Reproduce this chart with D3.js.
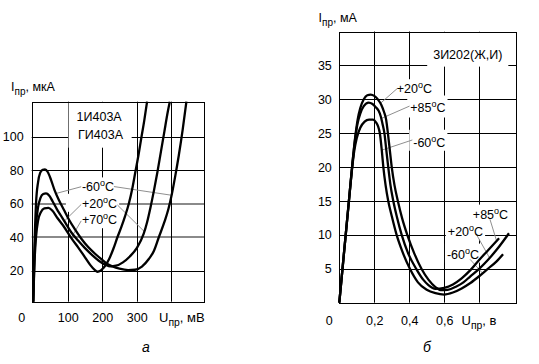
<!DOCTYPE html>
<html><head><meta charset="utf-8">
<script src="https://cdn.jsdelivr.net/npm/d3@7"></script>
<style>body{margin:0;background:#fff}svg{display:block}</style>
</head><body><svg id="c" width="539" height="364"></svg>
<script>
// ---------- DATA: left panel (1И403А / ГИ403А), U in mV, I in µA ----------
const leftYTicks = [20, 40, 60, 80, 100];
const leftGrayY  = [40, 60];
const leftXTicks = [100, 200, 300];
const leftXGrid  = [100, 200, 300, 400];
const leftMinus60 = [[0,1.5],[3,30],[8,60],[14,73],[20,78.5],[27,80.3],[34,80.5],[42,79],[52,74],[62,68],[75,62],[90,56],[105,50],[120,45],[140,39],[160,34],[180,30],[200,26.5],[215,24],[230,22.5],[250,21.2],[275,20.4],[295,20.6],[315,22.5],[335,27],[350,32],[364,40],[380,49],[392,57],[402,66],[412,77],[422,89],[433,104],[444,121]];
const leftPlus20  = [[0,1.5],[3,25],[8,47],[14,58],[21,63.5],[29,65.8],[37,66.2],[46,65],[56,61.5],[68,57],[80,53],[92,49],[110,43],[130,38],[150,33.5],[170,29.5],[190,26],[210,23.5],[223,22.6],[240,23],[260,25],[280,28.5],[300,33.5],[320,42],[330,49],[340,58],[350,68],[360,79],[370,91],[380,103],[390,115],[396,121]];
const leftPlus70  = [[0,1.5],[3,22],[8,40],[14,50],[22,55],[32,57.3],[44,57.6],[55,56],[70,51.5],[90,46],[112,39],[130,34],[150,28],[165,23.5],[178,20.5],[186,19.4],[196,20.2],[208,22.8],[220,27],[232,33],[244,40],[256,46.5],[266,52.5],[277,60],[287,69],[296,79],[305,89],[313,99],[322,110],[330,121]];

// ---------- DATA: right panel (3И202(Ж,И)), U in V, I in mA ----------
const rightYTicks = [5, 10, 15, 20, 25, 30, 35];
const rightXTicks = [0.2, 0.4, 0.6];
const rightXGrid  = [0.2, 0.4, 0.6, 0.8];
const rightPlus20  = [[0,0],[0.03,8.2],[0.055,15],[0.075,20.5],[0.09,24.2],[0.105,27],[0.12,28.7],[0.14,30],[0.16,30.6],[0.18,30.7],[0.2,30.5],[0.22,30],[0.24,29.2],[0.255,28.2],[0.268,27],[0.278,25],[0.289,22.5],[0.3,20],[0.316,17.3],[0.335,15],[0.36,12.4],[0.389,10],[0.43,7.2],[0.47,5],[0.51,3.4],[0.55,2.3],[0.58,1.85],[0.62,1.9],[0.67,2.4],[0.71,3.0],[0.75,3.9],[0.8,5.0],[0.85,6.3],[0.9,7.8],[0.971,10.25]];
const rightPlus85  = [[0,0],[0.03,8.2],[0.055,15],[0.075,20.5],[0.09,24],[0.105,26.5],[0.12,27.9],[0.14,29],[0.168,29.5],[0.19,29.3],[0.21,28.8],[0.225,28.3],[0.237,27.5],[0.248,26.3],[0.258,25],[0.269,22.5],[0.28,20],[0.293,17.3],[0.309,15],[0.33,12.6],[0.357,10],[0.395,7.2],[0.44,5],[0.48,3.4],[0.51,2.6],[0.55,2.05],[0.6,2.2],[0.65,2.7],[0.7,3.6],[0.75,4.8],[0.8,6.3],[0.85,7.7],[0.914,9.5]];
const rightMinus60 = [[0,0],[0.03,8.2],[0.055,15],[0.07,19],[0.085,22.3],[0.1,24.3],[0.12,25.8],[0.145,26.7],[0.17,27],[0.193,27],[0.21,26.6],[0.222,26],[0.232,25],[0.243,22.5],[0.252,20],[0.265,17.3],[0.28,15],[0.3,12.8],[0.328,10],[0.36,7.6],[0.404,5],[0.45,3],[0.5,1.9],[0.55,1.4],[0.6,1.2],[0.65,1.5],[0.7,2.1],[0.75,2.9],[0.8,3.9],[0.85,5.0],[0.9,6.1],[0.937,7.15]];

// ---------- drawing ----------
const FONT = '"Liberation Sans", Arial, sans-serif';
const FS = 12.5;
const svg = d3.select('#c');
const ruLocale = d3.formatLocale({decimal: ",", thousands: " ", grouping: [3], currency: ["", ""]});

function interp(data, xv) {
  for (let i = 1; i < data.length; i++) {
    if (data[i][0] >= xv) {
      const a = data[i-1], b = data[i], t = (xv - a[0]) / (b[0] - a[0]);
      return a[1] + t * (b[1] - a[1]);
    }
  }
  return data[data.length-1][1];
}

function tempLabel(g, x, y, num) {
  const t = g.append('text').attr('x', x).attr('y', y)
    .attr('font-family', FONT).attr('font-size', FS).attr('fill', '#000');
  t.append('tspan').text(num);
  t.append('tspan').attr('font-size', 9).attr('dy', -5).text('o');
  t.append('tspan').attr('dy', 5).text('C');
  return t;
}
function subLabel(g, x, y, main, sub, rest, fs) {
  const t = g.append('text').attr('x', x).attr('y', y)
    .attr('font-family', FONT).attr('font-size', fs).attr('fill', '#000');
  t.append('tspan').text(main);
  t.append('tspan').attr('font-size', fs * 0.8).attr('dy', 4).text(sub);
  t.append('tspan').attr('dy', -4).text(rest);
  return t;
}
function crisp(v) { return Math.round(v) + 0.5; }

function panel(o) {
  const {x, y} = o;
  const [x0, x1] = x.range(), [y0, y1] = y.range(); // y0 bottom, y1 top
  const g = svg.append('g');
  const grid = g.append('g'), masks = g.append('g'), frame = g.append('g'),
        leaders = g.append('g'), curves = g.append('g'), texts = g.append('g');

  // gridlines
  o.yGrid.forEach(v => {
    const gray = o.grayY && o.grayY.includes(v);
    grid.append('line').attr('x1', x0).attr('x2', x1)
      .attr('y1', gray ? Math.round(y(v)) : crisp(y(v))).attr('y2', gray ? Math.round(y(v)) : crisp(y(v)))
      .attr('stroke', gray ? '#8a8a8a' : '#000').attr('stroke-width', gray ? 2 : 1);
  });
  o.xGrid.forEach(v => {
    grid.append('line').attr('y1', y0).attr('y2', y1)
      .attr('x1', crisp(x(v))).attr('x2', crisp(x(v))).attr('stroke', '#000').attr('stroke-width', 1);
  });
  frame.append('rect').attr('x', crisp(x0)).attr('y', crisp(y1))
    .attr('width', Math.round(x1 - x0)).attr('height', Math.round(y0 - y1))
    .attr('fill', 'none').attr('stroke', '#000').attr('stroke-width', 1);

  // axes (labels only)
  const ay = g.append('g').attr('transform', `translate(${x0},0)`)
    .call(d3.axisLeft(y).tickValues(o.yTicks).tickSize(0).tickPadding(o.padY));
  ay.select('.domain').remove();
  ay.attr('font-family', FONT).attr('font-size', FS);
  const ax = g.append('g').attr('transform', `translate(0,${y0})`)
    .call(d3.axisBottom(x).tickValues(o.xTicks).tickSize(0).tickPadding(o.padX).tickFormat(o.fmt));
  ax.select('.domain').remove();
  ax.attr('font-family', FONT).attr('font-size', FS);
  // origin "0"
  texts.append('text').attr('x', x0 - 10).attr('y', y0 + o.padX + 9)
    .attr('text-anchor', 'middle').attr('font-family', FONT).attr('font-size', FS).text('0');

  // curves
  const line = d3.line().x(d => x(d[0])).y(d => y(d[1])).curve(d3.curveMonotoneX);
  o.series.forEach(s => {
    curves.append('path').attr('d', line(s)).attr('fill', 'none')
      .attr('stroke', '#000').attr('stroke-width', 2.3).attr('stroke-linejoin', 'round');
  });

  // labels with white backgrounds
  o.labels.forEach(L => {
    const t = tempLabel(texts, x(L.at[0]), y(L.at[1]), L.text);
    const b = t.node().getBBox();
    const p = L.pad || [2, 1, 2, 1];
    masks.append('rect').attr('x', b.x - p[0]).attr('y', b.y - p[1])
      .attr('width', b.width + p[0] + p[2]).attr('height', b.height + p[1] + p[3]).attr('fill', '#fff');
  });
  o.leaders.forEach(Ld => {
    const cx = Ld.curveX, cy = interp(Ld.curve, cx);
    leaders.append('line').attr('x1', x(cx)).attr('y1', y(cy))
      .attr('x2', x(Ld.to[0])).attr('y2', y(Ld.to[1]))
      .attr('stroke', '#8f8f8f').attr('stroke-width', 1);
  });
  return {g, texts, masks};
}

// ----- left panel -----
const xL = d3.scaleLinear().domain([-4.5, 495]).range([31.7, 204]);
const yL = d3.scaleLinear().domain([1.5, 121]).range([301.7, 101.7]);
const PL = panel({
  x: xL, y: yL, yGrid: leftYTicks, grayY: leftGrayY, xGrid: leftXGrid,
  yTicks: leftYTicks, xTicks: leftXTicks, padY: 8, padX: 11, fmt: d3.format('d'),
  series: [leftMinus60, leftPlus20, leftPlus70],
  labels: [
    {text: '-60', at: [141, 67.4]},
    {text: '+20', at: [141, 57.6], pad: [16, 1, 2, 1]},
    {text: '+70', at: [141, 47.8]}
  ],
  leaders: [
    {curve: leftMinus60, curveX: 66, to: [139, 70.2]},
    {curve: leftMinus60, curveX: 401, to: [234, 70.3]},
    {curve: leftPlus20, curveX: 90, to: [139, 59.6]},
    {curve: leftPlus20, curveX: 322, to: [244, 59.3]},
    {curve: leftPlus70, curveX: 110, to: [139, 49.8]}
  ]
});
{
  const t1 = PL.texts.append('text').attr('x', xL(191)).attr('y', yL(109.6)).attr('text-anchor', 'middle')
    .attr('font-family', FONT).attr('font-size', FS).text('1И403А');
  const t2 = PL.texts.append('text').attr('x', xL(195)).attr('y', yL(98.9)).attr('text-anchor', 'middle')
    .attr('font-family', FONT).attr('font-size', FS).text('ГИ403А');
  const b1 = t1.node().getBBox(), b2 = t2.node().getBBox();
  const bx0 = Math.min(b1.x, b2.x) - 8, bx1 = Math.max(b1.x + b1.width, b2.x + b2.width) + 8;
  PL.masks.append('rect').attr('x', bx0).attr('y', yL(121)).attr('width', bx1 - bx0)
    .attr('height', b2.y + b2.height + 6 - yL(121)).attr('fill', '#fff');
  subLabel(PL.texts, 11, 91, 'I', 'пр', ', мкА', FS);
  subLabel(PL.texts, 159, 322, 'U', 'пр', ', мВ', 13);
}

// ----- right panel -----
const xR = d3.scaleLinear().domain([0, 1.015]).range([339.3, 516.7]);
const yR = d3.scaleLinear().domain([0, 40]).range([302.7, 31.5]);
const PR = panel({
  x: xR, y: yR, yGrid: rightYTicks, xGrid: rightXGrid,
  yTicks: rightYTicks, xTicks: rightXTicks, padY: 7.5, padX: 13, fmt: ruLocale.format('.1f'),
  series: [rightPlus20, rightPlus85, rightMinus60],
  labels: [
    {text: '+20', at: [0.329, 30.9]},
    {text: '+85', at: [0.406, 28.2], pad: [3, 3, 2, 3]},
    {text: '-60', at: [0.423, 23.0], pad: [4, 4, 2, 1]},
    {text: '+85', at: [0.764, 12.4]},
    {text: '+20', at: [0.621, 9.9]},
    {text: '-60', at: [0.616, 6.5], pad: [2, 2, 6, 1]}
  ],
  leaders: [
    {curve: rightPlus20, curveX: 0.235, to: [0.332, 31.6]},
    {curve: rightPlus85, curveX: 0.24, to: [0.402, 29.0]},
    {curve: rightMinus60, curveX: 0.243, to: [0.418, 24.0]},
    {curve: rightPlus85, curveX: 0.9, to: [0.862, 12.3]},
    {curve: rightPlus20, curveX: 0.86, to: [0.786, 10.0]},
    {curve: rightMinus60, curveX: 0.82, to: [0.748, 6.4]}
  ]
});
{
  const t = PR.texts.append('text').attr('x', xR(0.735)).attr('y', yR(36.0)).attr('text-anchor', 'middle')
    .attr('font-family', FONT).attr('font-size', FS).text('3И202(Ж,И)');
  const b = t.node().getBBox();
  PR.masks.append('rect').attr('x', b.x - 6).attr('y', yR(40)).attr('width', b.width + 12)
    .attr('height', b.y + b.height + 5 - yR(40)).attr('fill', '#fff');
  subLabel(PR.texts, 318.5, 22, 'I', 'пр', ', мА', FS);
  subLabel(PR.texts, 461.5, 324.5, 'U', 'пр', ', в', 13);
}

// captions
svg.append('text').attr('x', 146).attr('y', 352).attr('text-anchor', 'middle')
  .attr('font-family', FONT).attr('font-size', 14).attr('font-style', 'italic').text('а');
svg.append('text').attr('x', 427).attr('y', 352).attr('text-anchor', 'middle')
  .attr('font-family', FONT).attr('font-size', 14).attr('font-style', 'italic').text('б');
</script></body></html>
